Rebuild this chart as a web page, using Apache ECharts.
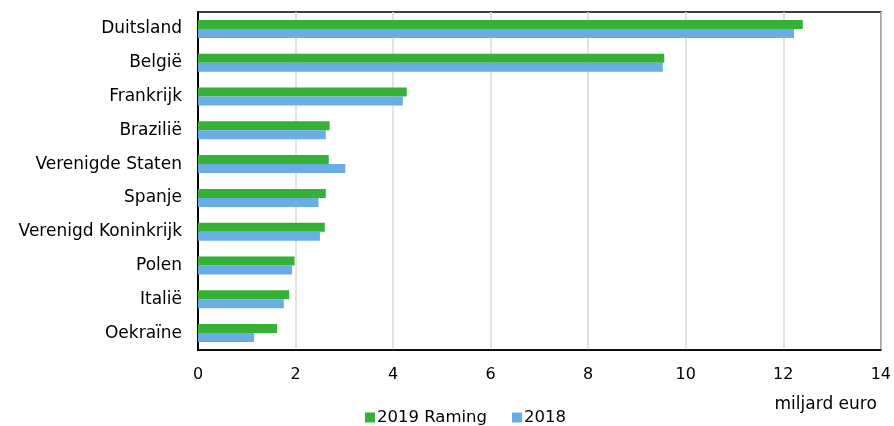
<!DOCTYPE html>
<html>
<head>
<meta charset="utf-8">
<script src="https://cdn.jsdelivr.net/npm/echarts@6/dist/echarts.min.js"></script>
<style>html,body{margin:0;padding:0;background:#fff}#c{width:894px;height:426px}</style>
</head>
<body>
<div id="c"></div>
<script>
const categories = ["Duitsland","België","Frankrijk","Brazilië","Verenigde Staten","Spanje","Verenigd Koninkrijk","Polen","Italië","Oekraïne"];
const raming2019 = [12.40, 9.56, 4.28, 2.70, 2.68, 2.62, 2.60, 1.98, 1.87, 1.62];
const values2018 = [12.22, 9.53, 4.20, 2.62, 3.02, 2.47, 2.50, 1.93, 1.76, 1.15];
const xTicks = [0, 2, 4, 6, 8, 10, 12, 14];
const seriesNames = ["2019 Raming", "2018"];
const unitLabel = "miljard euro";

const font = "'DejaVu Sans', Verdana, sans-serif";
const chart = echarts.init(document.getElementById('c'));
chart.setOption({
  animation: false,
  backgroundColor: '#fff',
  grid: { left: 198, right: 12, top: 12, bottom: 76, show: true, borderColor: '#000', borderWidth: 1.5, containLabel: false },
  legend: {
    top: 404, left: 360,
    itemWidth: 10, itemHeight: 10, itemGap: 25,
    icon: 'rect',
    textStyle: { fontFamily: font, fontSize: 16.5, color: '#000', padding: [0,0,0,-3] },
    data: seriesNames
  },
  xAxis: {
    type: 'value', min: xTicks[0], max: xTicks[xTicks.length-1], interval: 2,
    axisLine: { show: true, lineStyle: { color: '#000', width: 1.5 } },
    axisTick: { show: false },
    splitLine: { show: true, lineStyle: { color: '#d9d9d9', width: 1.5 } },
    axisLabel: { fontFamily: font, fontSize: 16, color: '#000', margin: 17 },
    name: unitLabel, nameLocation: 'end',
    nameTextStyle: { fontFamily: font, fontSize: 17, color: '#000', align: 'right', verticalAlign: 'top', padding: [46, 0, 0, 0] },
    nameGap: -4
  },
  yAxis: {
    type: 'category', data: categories, inverse: true,
    axisLine: { show: true, lineStyle: { color: '#000', width: 2 } },
    axisTick: { show: false },
    axisLabel: { fontFamily: font, fontSize: 17, color: '#000', margin: 16 }
  },
  series: [
    { name: seriesNames[0], type: 'bar', data: raming2019, barWidth: 9, barGap: '0%', itemStyle: { color: '#35b236' } },
    { name: seriesNames[1], type: 'bar', data: values2018, barWidth: 9, barGap: '0%', itemStyle: { color: '#6aade4' } }
  ]
});
</script>
</body>
</html>
